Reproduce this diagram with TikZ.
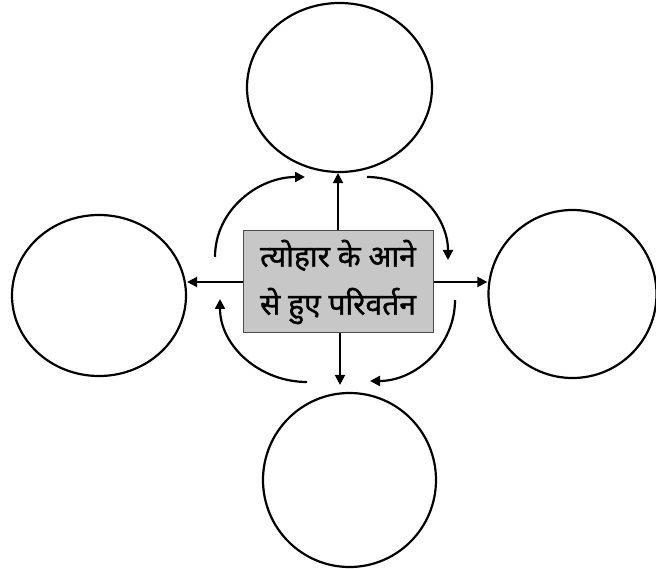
\documentclass[tikz,border=0pt]{standalone}
\usepackage{fontspec}
\usepackage{tikz}
\usetikzlibrary{shapes.geometric, arrows.meta}
\newfontfamily\hindi[Script=Devanagari, FakeBold=1.2]{Noto Sans}

\begin{document}
\begin{tikzpicture}[x=1pt, y=-1pt, ->, >={Triangle[length=10pt, width=10pt]}, line width=2.2pt,
    blank/.style={draw, ellipse, inner sep=0pt, -},
    topic/.style={draw=black!70, line width=1pt, fill=black!22, minimum width=190pt, minimum height=102pt,
                  align=center, font=\hindi\fontsize{30}{48}\selectfont}]
    \useasboundingbox (0,0) rectangle (656,569);

    \node[topic] (c) at (338,282) {त्योहार के आने\\से हुए परिवर्तन};
    \node[blank, minimum width=185pt, minimum height=169pt] (n) at (339.5,87.5) {};
    \node[blank, minimum width=174pt, minimum height=161pt] (w) at (99,295.5)  {};
    \node[blank, minimum width=168pt, minimum height=168pt] (e) at (572.5,294) {};
    \node[blank, minimum width=173pt, minimum height=174pt] (s) at (349.5,480) {};

    % straight arrows out of the box
    \draw (c.north) -- (c.north |- n.south);
    \draw (c.west)  -- (c.west -| w.east);
    \draw (c.east)  -- (c.east -| e.west);
    \draw[shorten >=7pt] ([xshift=2pt]c.south) -- ([xshift=2pt]c.south |- s.north);

    % curved arrows round the box
    \coordinate (a1) at (215,257);  \coordinate (a2) at (305,177);
    \coordinate (b1) at (367,177);  \coordinate (b2) at (448,260);
    \coordinate (c1) at (455,300);  \coordinate (c2) at (370,381);
    \coordinate (d1) at (307,382);  \coordinate (d2) at (220,299);
    \draw (a1) to[out=90,  in=180] (a2);
    \draw (b1) to[out=0,   in=90]  (b2);
    \draw (c1) to[out=-90, in=0]   (c2);
    \draw (d1) to[out=180, in=-90] (d2);
\end{tikzpicture}
\end{document}
